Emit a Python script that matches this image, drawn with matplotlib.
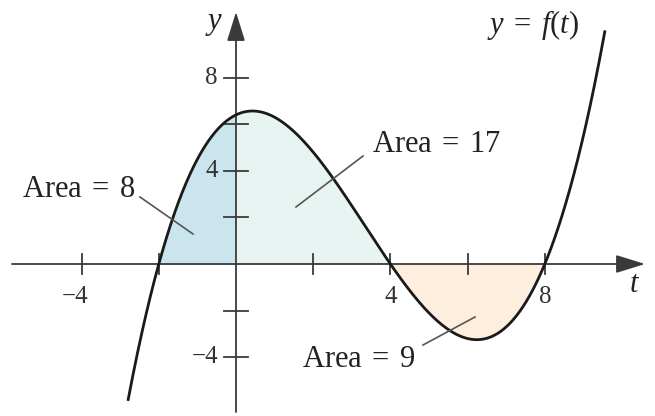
import numpy as np
import matplotlib
matplotlib.use("Agg")
import matplotlib.pyplot as plt

# ---------------- data ----------------
roots = [-2, 4, 8]            # zeros of f
lead_coef = 0.1               # leading coefficient of the cubic
t_start, t_end = -2.8, 9.56   # drawn extent of the curve
area_bounds = [(-2, 0), (0, 4), (4, 8)]
area_values = [8, 17, 9]
x_ticks = [-4, -2, 2, 4, 6, 8]
x_tick_labels = ["\u22124", "", "", "4", "", "8"]
y_ticks = [-4, -2, 2, 4, 6, 8]
y_tick_labels = ["\u22124", "", "", "4", "", "8"]

# ---------------- style ----------------
plt.rcParams["font.family"] = ["Liberation Serif", "DejaVu Serif"]
plt.rcParams["mathtext.fontset"] = "custom"
plt.rcParams["mathtext.rm"] = "Liberation Serif"
plt.rcParams["mathtext.it"] = "Liberation Serif:italic"

fill_colors = ["#cae5ee", "#e7f4f1", "#fdeedd"]
axis_color = "#3a3a3a"
text_color = "#222222"

fig = plt.figure(figsize=(6.55, 4.16), dpi=100)
ax = fig.add_axes([0, 0, 1, 1])
ax.set_axis_off()

XPX, YPX = 38.6, 23.3   # pixels per unit
X0, Y0 = 236, 264       # pixel of origin
ax.set_xlim(-X0 / XPX, (655 - X0) / XPX)
ax.set_ylim((Y0 - 416) / YPX, Y0 / YPX)


def P(px, py):
    return ((px - X0) / XPX, (Y0 - py) / YPX)


poly = lead_coef * np.poly(roots)
t = np.linspace(t_start, t_end, 600)
f = np.polyval(poly, t)

# shaded areas
for (a, b), c in zip(area_bounds, fill_colors):
    tt = np.linspace(a, b, 200)
    ax.fill_between(tt, 0, np.polyval(poly, tt), color=c, lw=0, zorder=1)

# axes with arrows
arrow_kw = dict(arrowstyle="-|>,head_length=0.9,head_width=0.28",
                color=axis_color, lw=1.3, shrinkA=0, shrinkB=0,
                mutation_scale=20)
ax.annotate("", xy=P(645, Y0), xytext=P(12, Y0), arrowprops=arrow_kw, zorder=2)
ax.annotate("", xy=P(X0, 12), xytext=P(X0, 412), arrowprops=arrow_kw, zorder=2)

# ticks
xt_half = 10 / YPX
for v, lab in zip(x_ticks, x_tick_labels):
    ax.plot([v, v], [-xt_half, xt_half], color=axis_color, lw=1.3, zorder=2)
    if lab:
        ax.annotate(lab, xy=(v, 0), xytext=(7, -22), textcoords="offset pixels",
                    ha="right", va="top", fontsize=18, color="#333333")
yt_half = 12 / XPX
for v, lab in zip(y_ticks, y_tick_labels):
    ax.plot([-yt_half, yt_half], [v, v], color=axis_color, lw=1.3, zorder=2)
    if lab:
        ax.annotate(lab, xy=(0, v), xytext=(-18, 0), textcoords="offset pixels",
                    ha="right", va="center", fontsize=18, color="#333333")

# curve
ax.plot(t, f, color="#1a1a1a", lw=2.0, zorder=3, solid_capstyle="butt")

# axis names
ax.text(*P(214, 29), "y", fontstyle="italic", fontsize=22, ha="center",
        va="baseline", color=text_color)
ax.text(*P(634, 292), "t", fontstyle="italic", fontsize=22, ha="center",
        va="baseline", color=text_color)
ax.text(*P(487, 33), r"$y\;=\;f(t)$", fontsize=22, ha="left",
        va="baseline", color=text_color)

# area labels with leader lines
label_pos = [(22, 197), (372, 152), (302, 367)]
leaders = [((140, 197), (193, 234)), ((363, 156), (296, 207)),
           ((423, 345), (475, 317))]
for val, (px, py), (p1, p2) in zip(area_values, label_pos, leaders):
    ax.text(*P(px, py), r"$\mathrm{Area}\;=\;%d$" % val, fontsize=22,
            ha="left", va="baseline", color=text_color, zorder=4)
    (x1, y1), (x2, y2) = P(*p1), P(*p2)
    ax.plot([x1, x2], [y1, y2], color="#555555", lw=1.2, zorder=4)

fig.savefig("out.png", dpi=100)
